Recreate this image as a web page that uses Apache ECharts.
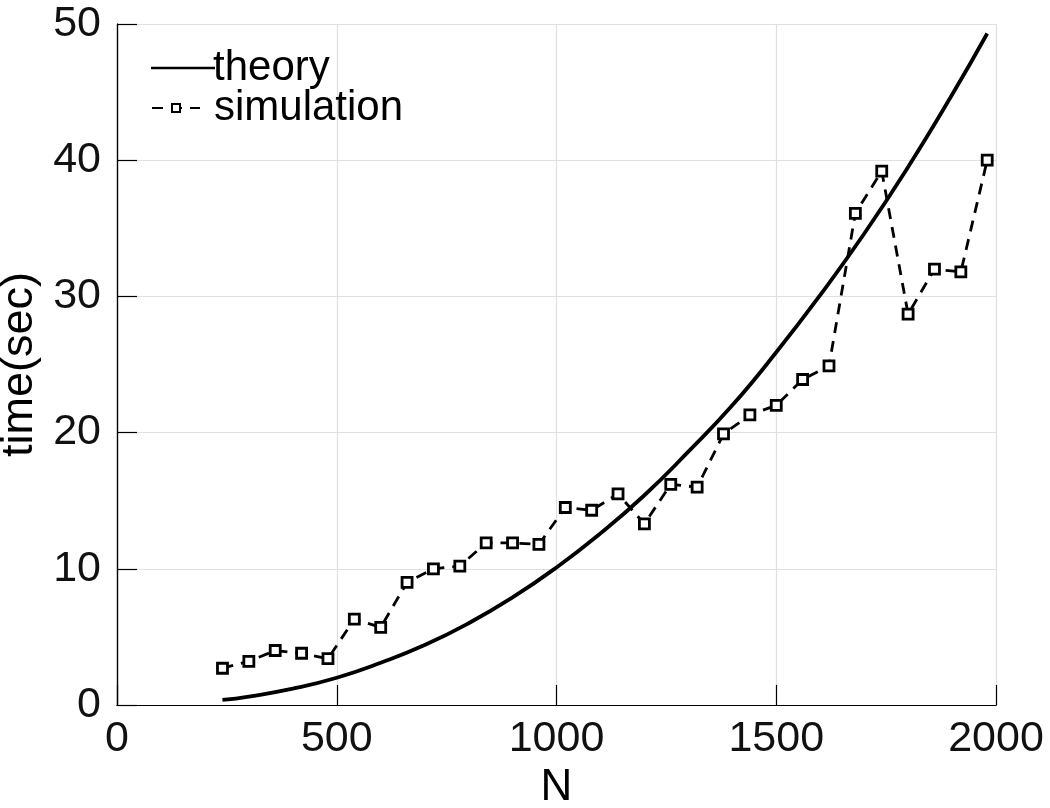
<!DOCTYPE html>
<html>
<head>
<meta charset="utf-8">
<script src="https://cdn.jsdelivr.net/npm/echarts@6/dist/echarts.min.js"></script>
<style>
  html, body { margin: 0; padding: 0; background: #fff; }
  #chart { width: 1050px; height: 808px; }
</style>
</head>
<body>
<div id="chart"></div>
<script>
// theory curve
var theoryN = [240, 300, 400, 500, 600, 700, 800, 900, 1000, 1100, 1200, 1300, 1400, 1500, 1600, 1700, 1800, 1900, 1980];
var theoryT = [0.37, 0.62, 1.2, 2.0, 3.1, 4.4, 6.0, 7.9, 10.1, 12.6, 15.4, 18.6, 22.0, 25.9, 30.1, 34.6, 39.5, 44.8, 49.3];

// simulation points
var simN = [240, 300, 360, 420, 480, 540, 600, 660, 720, 780, 840, 900, 960, 1020, 1080,
            1140, 1200, 1260, 1320, 1380, 1440, 1500, 1560, 1620, 1680, 1740, 1800, 1860, 1920, 1980];
var simT = [2.7, 3.2, 4.0, 3.8, 3.4, 6.3, 5.7, 9.0, 10.0, 10.2, 11.9, 11.9, 11.8, 14.5, 14.3,
            15.5, 13.3, 16.2, 16.0, 19.9, 21.3, 22.0, 23.9, 24.9, 36.1, 39.2, 28.7, 32.0, 31.8, 40.0];

var xTicks = [0, 2000, 500];   // min, max, step
var yTicks = [0, 50, 10];

function pairs(xs, ys) {
  return xs.map(function (x, i) { return [x, ys[i]]; });
}

var font = 'Liberation Sans, Helvetica, Arial, sans-serif';
var gridColor = '#e0e0e0';
var plain = function (v) { return String(v); };
function axisLine() { return { show: true, lineStyle: { color: '#000', width: 1.2 } }; }

// axes that only carry the tick marks, pulled 10px into the plot so the ticks point inward
function tickAxis(type, pos, range) {
  return {
    type: 'value', position: pos, offset: -10, min: range[0], max: range[1], interval: range[2],
    axisLine: { show: false },
    axisTick: { show: true, length: 10, lineStyle: { color: '#000', width: 1.2 } },
    axisLabel: { show: false },
    splitLine: { show: false }
  };
}

var chart = echarts.init(document.getElementById('chart'));
var option = {
  backgroundColor: '#fff',
  animation: false,
  textStyle: { fontFamily: font, color: '#000' },
  grid: { left: 117, right: 54, top: 24, bottom: 103, containLabel: false, outerBoundsMode: 'none' },
  legend: [{
    orient: 'vertical',
    left: 146,
    top: 42,
    itemWidth: 64,
    itemHeight: 4,
    textStyle: { fontSize: 42, color: '#000', fontFamily: font, padding: [0, 0, 0, -7] },
    data: [{ name: 'theory', icon: 'path://M0,0 H100 V4 H0 Z' }]
  }, {
    orient: 'vertical',
    left: 146,
    top: 82,
    itemWidth: 48,
    itemHeight: 10,
    textStyle: { fontSize: 42, color: '#000', fontFamily: font, padding: [0, 0, 0, 9] },
    data: ['simulation']
  }],
  xAxis: [{
    type: 'value', min: xTicks[0], max: xTicks[1], interval: xTicks[2],
    name: 'N', nameLocation: 'middle', nameGap: 50,
    nameTextStyle: { fontSize: 44, color: '#000' },
    axisLine: axisLine(), axisTick: { show: false },
    axisLabel: { fontSize: 43, color: '#111', margin: 13, formatter: plain },
    splitLine: { show: true, lineStyle: { color: gridColor, width: 1.2 } }
  }, {
    type: 'value', position: 'top', min: xTicks[0], max: xTicks[1], interval: xTicks[2],
    axisLine: axisLine(), axisTick: { show: false },
    axisLabel: { show: false },
    splitLine: { show: false }
  },
    tickAxis('x', 'bottom', xTicks),
    tickAxis('x', 'top', xTicks)
  ],
  yAxis: [{
    type: 'value', min: yTicks[0], max: yTicks[1], interval: yTicks[2],
    name: 'time(sec)', nameLocation: 'middle', nameGap: 69,
    nameTextStyle: { fontSize: 45, color: '#000' },
    axisLine: axisLine(), axisTick: { show: false },
    axisLabel: { fontSize: 43, color: '#111', margin: 16, formatter: plain },
    splitLine: { show: true, lineStyle: { color: gridColor, width: 1.2 } }
  }, {
    type: 'value', position: 'right', min: yTicks[0], max: yTicks[1], interval: yTicks[2],
    axisLine: axisLine(), axisTick: { show: false },
    axisLabel: { show: false },
    splitLine: { show: false }
  },
    tickAxis('y', 'left', yTicks),
    tickAxis('y', 'right', yTicks)
  ],
  series: [{
    name: 'theory',
    type: 'line',
    data: pairs(theoryN, theoryT),
    smooth: true,
    showSymbol: false,
    symbol: 'none',
    lineStyle: { color: '#000', width: 3.8 },
    itemStyle: { color: '#000' }
  }, {
    name: 'simulation',
    type: 'line',
    data: pairs(simN, simT),
    symbol: 'rect',
    symbolSize: 10,
    lineStyle: { color: '#000', width: 2.8, type: [11, 8] },
    itemStyle: { color: '#fff', borderColor: '#000', borderWidth: 2.8 }
  }]
};
chart.setOption(option);
</script>
</body>
</html>
